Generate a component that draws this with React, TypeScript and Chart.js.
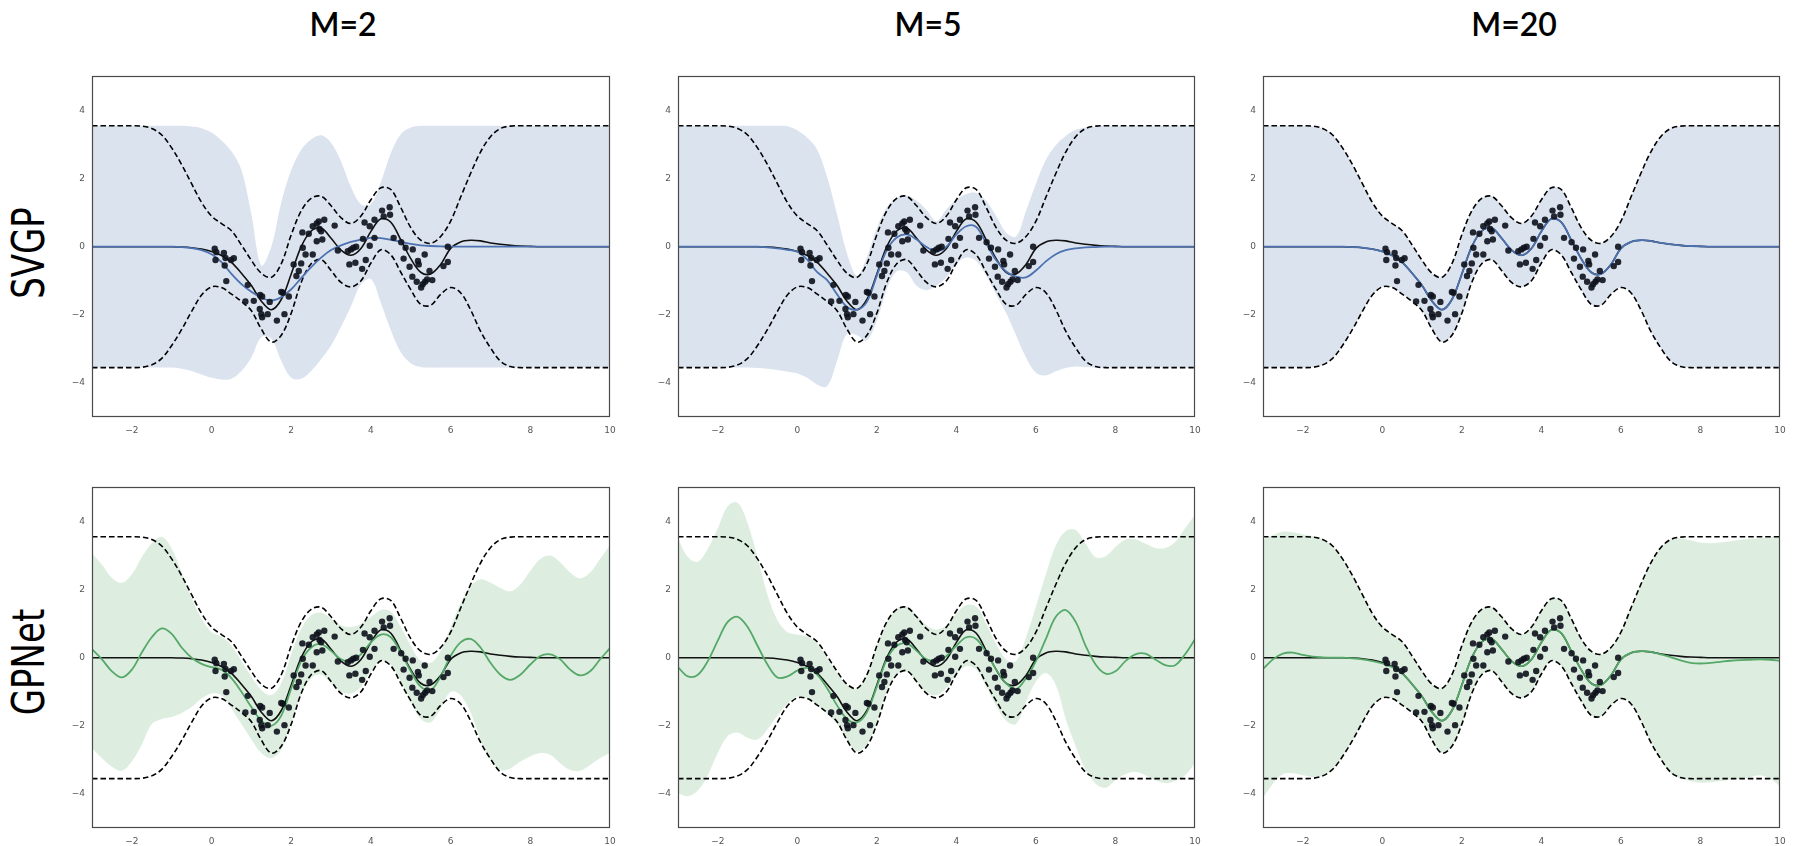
import React, { useEffect, useRef } from 'react';
import { Chart, registerables } from 'chart.js';
Chart.register(...registerables);

// ---------- data ----------
const XS = [-3,-2.75,-2.5,-2.25,-2,-1.75,-1.5,-1.25,-1,-0.75,-0.5,-0.25,0,
  0.25,0.5,0.75,1,1.25,1.5,1.75,2,2.25,2.5,2.75,3,3.25,
  3.5,3.75,4,4.25,4.5,4.75,5,5.25,5.5,5.75,6,6.25,6.5,
  6.75,7,7.25,7.5,7.75,8,8.25,8.5,8.75,9,9.25,9.5,9.75,10];

const X_TICKS = [-2, 0, 2, 4, 6, 8, 10];
const Y_TICKS = [-4, -2, 0, 2, 4];
const COL_TITLES = ['M=2', 'M=5', 'M=20'];
const ROW_TITLES = ['SVGP', 'GPNet'];

// exact GP (black) mean and +-2sd bounds
const TRUE_MEAN = [0,0,0,0,0,0,0,0,0,-0.01,-0.03,-0.07,-0.14,
  -0.26,-0.46,-0.78,-1.14,-1.6,-1.85,-1.55,-0.8,0.0,0.46,0.55,0.25,-0.1,
  -0.25,-0.05,0.45,0.82,0.72,0.2,-0.35,-0.75,-0.8,-0.52,-0.05,0.14,0.19,
  0.17,0.11,0.07,0.04,0.02,0.01,0,0,0,0,0,0,0,0];
const DASH_UP = [3.55,3.55,3.55,3.55,3.55,3.54,3.47,3.28,2.9,2.41,1.85,1.3,0.9,
  0.68,0.47,0.05,-0.4,-0.78,-0.9,-0.5,0.35,1.05,1.42,1.48,1.2,0.85,
  0.68,0.9,1.38,1.73,1.68,1.15,0.56,0.19,0.1,0.3,0.75,1.45,2.15,
  2.78,3.23,3.47,3.54,3.55,3.55,3.55,3.55,3.55,3.55,3.55,3.55,3.55,3.55];
const DASH_LO = [-3.55,-3.55,-3.55,-3.55,-3.55,-3.54,-3.47,-3.28,-2.9,-2.43,-1.9,-1.42,-1.18,
  -1.2,-1.39,-1.61,-1.88,-2.42,-2.8,-2.6,-1.95,-1.05,-0.5,-0.38,-0.7,-1.05,
  -1.18,-1.0,-0.48,-0.09,-0.24,-0.75,-1.26,-1.69,-1.72,-1.4,-1.2,-1.35,-1.85,
  -2.48,-2.97,-3.36,-3.52,-3.55,-3.55,-3.55,-3.55,-3.55,-3.55,-3.55,-3.55,-3.55,-3.55];

// SVGP M=2
const SVGP2_MEAN = [0,0,0,0,0,0,0,0,0,-0.01,-0.04,-0.1,-0.22,
  -0.45,-0.8,-1.1,-1.32,-1.5,-1.58,-1.48,-1.25,-0.92,-0.6,-0.32,-0.1,0.04,
  0.14,0.21,0.26,0.25,0.2,0.14,0.08,0.04,0.02,0.01,0,0,0,
  0,0,0,0,0,0,0,0,0,0,0,0,0,0];
const SVGP2_UP = [3.55,3.55,3.55,3.55,3.55,3.55,3.55,3.55,3.55,3.55,3.53,3.48,3.35,
  3.12,2.8,2.25,0.95,-0.55,0.0,1.3,2.25,2.85,3.15,3.27,3.05,2.5,
  1.75,1.25,1.25,1.9,2.75,3.3,3.5,3.55,3.55,3.55,3.55,3.55,3.55,
  3.55,3.55,3.55,3.55,3.55,3.55,3.55,3.55,3.55,3.55,3.55,3.55,3.55,3.55];
const SVGP2_LO = [-3.55,-3.55,-3.55,-3.55,-3.55,-3.55,-3.55,-3.55,-3.55,-3.58,-3.65,-3.75,-3.85,
  -3.9,-3.88,-3.65,-3.25,-2.65,-2.7,-3.35,-3.85,-3.88,-3.65,-3.3,-2.9,-2.35,
  -1.75,-1.1,-0.95,-1.65,-2.45,-3.1,-3.42,-3.53,-3.55,-3.55,-3.55,-3.55,-3.55,
  -3.55,-3.55,-3.55,-3.55,-3.55,-3.55,-3.55,-3.55,-3.55,-3.55,-3.55,-3.55,-3.55,-3.55];

// SVGP M=5
const SVGP5_MEAN = [0,0,0,0,0,0,0,0,0,-0.02,-0.05,-0.09,-0.15,
  -0.38,-0.75,-0.98,-1.4,-1.77,-1.85,-1.62,-0.85,-0.1,0.27,0.36,0.21,-0.01,
  -0.13,0.0,0.36,0.6,0.58,0.1,-0.4,-0.73,-0.88,-0.9,-0.7,-0.43,-0.22,
  -0.1,-0.05,-0.02,-0.01,0,0,0,0,0,0,0,0,0,0];
const SVGP5_UP = [3.55,3.55,3.55,3.55,3.55,3.55,3.55,3.55,3.55,3.55,3.55,3.54,3.42,
  3.2,2.85,2.05,0.95,-0.2,-0.85,-0.3,0.55,1.15,1.42,1.5,1.35,1.08,
  0.75,1.1,1.38,1.55,1.58,1.35,0.9,0.42,0.3,1.05,1.85,2.55,2.98,
  3.25,3.43,3.5,3.53,3.55,3.55,3.55,3.55,3.55,3.55,3.55,3.55,3.55,3.55];
const SVGP5_LO = [-3.55,-3.55,-3.55,-3.55,-3.55,-3.55,-3.55,-3.55,-3.56,-3.58,-3.62,-3.67,-3.72,
  -3.85,-4.05,-4.1,-3.35,-2.55,-2.6,-2.75,-2.17,-1.25,-0.72,-0.75,-1.15,-1.28,
  -1.15,-0.9,-0.51,-0.32,-0.42,-0.85,-1.4,-1.95,-2.6,-3.25,-3.7,-3.78,-3.66,
  -3.56,-3.52,-3.53,-3.55,-3.55,-3.55,-3.55,-3.55,-3.55,-3.55,-3.55,-3.55,-3.55,-3.55];

// GPNet M=2
const GPNET2_MEAN = [0.25,-0.05,-0.4,-0.58,-0.35,0.15,0.6,0.86,0.7,0.3,0.0,-0.18,-0.28,
  -0.35,-0.6,-1.0,-1.45,-1.85,-2.0,-1.7,-0.9,-0.1,0.3,0.4,0.2,-0.05,
  -0.1,0.1,0.45,0.68,0.6,0.15,-0.4,-0.85,-0.95,-0.55,0.05,0.45,0.55,
  0.3,-0.15,-0.5,-0.65,-0.5,-0.2,0.05,0.1,-0.05,-0.35,-0.52,-0.4,-0.05,0.28];
const GPNET2_UP = [3.07,2.73,2.35,2.2,2.45,2.95,3.36,3.55,3.2,2.5,1.75,1.15,0.75,
  0.62,0.35,-0.1,-0.55,-0.95,-1.1,-0.75,0.1,0.85,1.25,1.32,1.15,0.95,
  0.9,1.0,1.2,1.4,1.35,0.9,0.35,-0.1,-0.15,0.2,0.9,1.6,2.1,
  2.3,2.2,2.05,1.95,2.15,2.55,2.9,3.0,2.8,2.5,2.33,2.5,2.9,3.3];
const GPNET2_LO = [-2.66,-2.95,-3.2,-3.32,-3.05,-2.55,-1.95,-1.8,-1.74,-1.62,-1.45,-1.2,-1.05,
  -1.1,-1.5,-1.95,-2.4,-2.8,-2.95,-2.7,-1.9,-1.1,-0.6,-0.5,-0.75,-1.0,
  -1.05,-0.85,-0.4,-0.1,-0.2,-0.7,-1.3,-1.8,-1.9,-1.5,-1.0,-1.1,-1.6,
  -2.4,-3.0,-3.3,-3.25,-3.05,-2.9,-2.8,-2.85,-3.1,-3.3,-3.32,-3.15,-2.95,-2.8];

// GPNet M=5
const GPNET5_MEAN = [-0.28,-0.55,-0.5,-0.1,0.5,1.05,1.2,0.9,0.35,-0.2,-0.58,-0.55,-0.38,
  -0.3,-0.5,-0.9,-1.4,-1.8,-1.9,-1.6,-0.85,-0.05,0.35,0.42,0.2,-0.05,
  -0.1,0.05,0.35,0.6,0.55,0.15,-0.35,-0.75,-0.92,-0.6,-0.1,0.55,1.2,
  1.4,1.05,0.35,-0.2,-0.47,-0.4,-0.1,0.1,0.12,-0.05,-0.22,-0.22,0.1,0.54];
const GPNET5_UP = [3.5,2.95,2.82,3.2,3.8,4.45,4.55,3.95,2.95,1.85,1.1,0.75,0.68,
  0.62,0.42,0.0,-0.45,-0.8,-0.92,-0.5,0.35,1.05,1.42,1.5,1.25,0.95,
  0.82,0.95,1.3,1.55,1.5,1.0,0.4,-0.05,-0.1,0.6,1.5,2.45,3.3,
  3.72,3.75,3.35,2.95,2.98,3.25,3.47,3.48,3.35,3.22,3.22,3.4,3.8,4.2];
const GPNET5_LO = [-3.97,-4.07,-3.9,-3.45,-2.8,-2.3,-2.2,-2.35,-2.4,-2.1,-1.7,-1.35,-1.15,
  -1.2,-1.4,-1.65,-1.95,-2.4,-2.75,-2.55,-1.9,-1.0,-0.5,-0.42,-0.72,-1.02,
  -1.1,-0.9,-0.5,-0.25,-0.35,-0.85,-1.4,-1.85,-1.95,-1.3,-0.7,-0.45,-0.8,
  -1.8,-2.6,-3.3,-3.7,-3.82,-3.6,-3.42,-3.35,-3.45,-3.6,-3.68,-3.62,-3.45,-3.1];

// GPNet M=20
const GPNET20_MEAN = [-0.33,-0.05,0.12,0.15,0.08,0.03,0.01,0,0,-0.02,-0.05,-0.1,-0.17,
  -0.28,-0.46,-0.78,-1.14,-1.6,-1.85,-1.55,-0.8,0.0,0.46,0.55,0.25,-0.1,
  -0.25,-0.05,0.45,0.82,0.72,0.2,-0.35,-0.75,-0.8,-0.52,-0.05,0.14,0.19,
  0.17,0.1,0.02,-0.08,-0.15,-0.17,-0.15,-0.12,-0.09,-0.07,-0.06,-0.05,-0.06,-0.09];
const GPNET20_UP = [3.46,3.6,3.7,3.68,3.62,3.57,3.47,3.28,2.9,2.41,1.85,1.3,0.9,
  0.68,0.47,0.05,-0.4,-0.78,-0.9,-0.5,0.35,1.05,1.42,1.48,1.2,0.85,
  0.68,0.9,1.38,1.73,1.68,1.15,0.56,0.19,0.1,0.3,0.75,1.45,2.15,
  2.78,3.23,3.47,3.5,3.45,3.38,3.36,3.38,3.42,3.46,3.49,3.51,3.53,3.56];
const GPNET20_LO = [-4.12,-3.7,-3.42,-3.39,-3.45,-3.5,-3.47,-3.28,-2.9,-2.43,-1.9,-1.42,-1.18,
  -1.2,-1.39,-1.61,-1.88,-2.42,-2.8,-2.6,-1.95,-1.05,-0.5,-0.38,-0.7,-1.05,
  -1.18,-1.0,-0.48,-0.09,-0.24,-0.75,-1.26,-1.69,-1.72,-1.4,-1.2,-1.35,-1.85,
  -2.48,-2.97,-3.4,-3.55,-3.62,-3.67,-3.66,-3.62,-3.58,-3.56,-3.5,-3.45,-3.55,-3.78];

// observations
const PTS_X = [0.08,0.12,0.10,0.31,0.35,0.33,0.49,0.56,0.37,0.91,
  0.85,1.06,1.22,1.27,1.21,1.25,1.27,1.41,1.46,1.64,
  1.75,1.79,1.83,1.94,2.06,2.13,2.19,2.25,2.29,2.36,
  2.28,2.44,2.54,2.54,2.64,2.69,2.71,2.64,2.78,2.83,2.75,
  3.09,3.17,3.42,3.50,3.56,3.63,3.46,3.61,3.78,3.87,
  3.80,3.97,3.84,3.97,4.09,4.09,4.28,4.32,4.47,4.48,
  4.57,4.76,4.87,5.05,4.82,4.97,5.18,5.20,5.35,5.04,
  5.15,5.26,5.30,5.36,5.41,5.47,5.54,5.82,5.93,5.93];
const PTS_Y = [-0.06,-0.16,-0.39,-0.18,-0.33,-0.55,-0.39,-0.34,-1.01,-1.12,
  -1.61,-1.59,-1.42,-1.46,-1.83,-1.98,-2.07,-1.98,-1.62,-2.17,
  -1.33,-1.35,-1.98,-1.46,-0.52,-0.86,-0.71,-0.49,-0.03,-0.23,
  0.42,0.38,-0.23,0.60,0.68,0.74,0.52,0.16,0.21,0.79,0.45,
  0.62,-0.11,-0.13,-0.08,-0.03,0.0,-0.52,-0.47,-0.65,-0.39,
  0.23,0.03,0.71,0.60,0.79,0.26,1.06,0.89,1.16,0.94,
  0.26,0.13,-0.03,-0.08,-0.35,-0.59,-0.42,-0.52,-0.23,-0.88,
  -1.03,-1.20,-1.10,-1.03,-0.96,-0.71,-0.98,-0.57,-0.45,0.0];

// ---------- layout / style ----------
const PLOT_LEFT = [92, 678, 1263];
const PLOT_WIDTH = [518, 517, 517];
const PLOT_TOP = [74, 485];
const PLOT_HEIGHT = 343;
const PAD_L = 40, PAD_T = 10, PAD_R = 20, PAD_B = 25;

const BLUE = '#4c72b0';
const BLUE_FILL = 'rgba(76,114,176,0.2)';
const GREEN = '#55a868';
const GREEN_FILL = 'rgba(85,168,104,0.2)';

type PanelDef = { row: number; col: number; mean: number[]; up: number[]; lo: number[]; color: string; fill: string };

const PANELS: PanelDef[] = [
  { row: 0, col: 0, mean: SVGP2_MEAN, up: SVGP2_UP, lo: SVGP2_LO, color: BLUE, fill: BLUE_FILL },
  { row: 0, col: 1, mean: SVGP5_MEAN, up: SVGP5_UP, lo: SVGP5_LO, color: BLUE, fill: BLUE_FILL },
  { row: 0, col: 2, mean: TRUE_MEAN, up: DASH_UP, lo: DASH_LO, color: BLUE, fill: BLUE_FILL },
  { row: 1, col: 0, mean: GPNET2_MEAN, up: GPNET2_UP, lo: GPNET2_LO, color: GREEN, fill: GREEN_FILL },
  { row: 1, col: 1, mean: GPNET5_MEAN, up: GPNET5_UP, lo: GPNET5_LO, color: GREEN, fill: GREEN_FILL },
  { row: 1, col: 2, mean: GPNET20_MEAN, up: GPNET20_UP, lo: GPNET20_LO, color: GREEN, fill: GREEN_FILL },
];

const fmt = (v: number) => (v < 0 ? '\u2212' + Math.abs(v) : String(v));
const toPts = (ys: number[]) => XS.map((x, i) => ({ x, y: ys[i] }));

const framePlugin = {
  id: 'frame',
  afterDraw(chart: any) {
    const { ctx, chartArea } = chart;
    ctx.save();
    ctx.strokeStyle = '#4a4a4a';
    ctx.lineWidth = 1.2;
    ctx.strokeRect(Math.round(chartArea.left) + 0.5, Math.round(chartArea.top) + 0.5,
      Math.round(chartArea.right - chartArea.left) - 1, Math.round(chartArea.bottom - chartArea.top) - 1);
    ctx.restore();
  },
};

function Panel({ p }: { p: PanelDef }) {
  const ref = useRef<HTMLCanvasElement>(null);
  const w = PLOT_WIDTH[p.col] + PAD_L + PAD_R;
  const h = PLOT_HEIGHT + PAD_T + PAD_B;
  useEffect(() => {
    const line = (ys: number[], extra: any) => ({
      type: 'line', data: toPts(ys), pointRadius: 0, fill: false, tension: 0.35, ...extra,
    });
    const chart = new Chart(ref.current as HTMLCanvasElement, {
      type: 'line',
      data: {
        datasets: [
          line(p.up, { fill: '+1', backgroundColor: p.fill, borderColor: 'rgba(0,0,0,0)', borderWidth: 0, order: 10 }),
          line(p.lo, { borderColor: 'rgba(0,0,0,0)', borderWidth: 0, order: 11 }),
          line(DASH_UP, { borderColor: '#000', borderWidth: 1.6, borderDash: [5.5, 3], order: 5 }),
          line(DASH_LO, { borderColor: '#000', borderWidth: 1.6, borderDash: [5.5, 3], order: 5 }),
          line(TRUE_MEAN, { borderColor: '#111', borderWidth: 1.6, order: 4 }),
          line(p.mean, { borderColor: p.color, borderWidth: 1.8, order: 3 }),
          {
            type: 'scatter',
            data: PTS_X.map((x, i) => ({ x, y: PTS_Y[i] })),
            backgroundColor: 'rgba(14,18,28,0.9)',
            borderWidth: 0,
            pointRadius: 3.2,
            order: 1,
          },
        ] as any,
      },
      options: {
        animation: false,
        responsive: false,
        maintainAspectRatio: false,
        events: [],
        layout: { padding: { left: 0, right: PAD_R, top: PAD_T, bottom: 0 } },
        plugins: { legend: { display: false }, tooltip: { enabled: false } },
        scales: {
          x: {
            type: 'linear', min: -3, max: 10,
            grid: { display: false, drawTicks: false },
            border: { display: false },
            ticks: {
              font: { family: 'DejaVu Sans', size: 9 }, color: '#555', padding: 8,
              maxRotation: 0, autoSkip: false, callback: (v: any) => fmt(Number(v)),
            },
            afterBuildTicks: (s: any) => { s.ticks = X_TICKS.map((v) => ({ value: v })); },
            afterFit: (s: any) => { s.height = PAD_B; },
          },
          y: {
            type: 'linear', min: -5, max: 5,
            grid: { display: false, drawTicks: false },
            border: { display: false },
            ticks: {
              font: { family: 'DejaVu Sans', size: 9 }, color: '#555', padding: 7,
              autoSkip: false, callback: (v: any) => fmt(Number(v)),
            },
            afterBuildTicks: (s: any) => { s.ticks = Y_TICKS.map((v) => ({ value: v })); },
            afterFit: (s: any) => { s.width = PAD_L; },
          },
        },
      } as any,
      plugins: [framePlugin],
    });
    return () => chart.destroy();
  }, []);
  return (
    <canvas
      ref={ref}
      width={w}
      height={h}
      style={{ position: 'absolute', left: PLOT_LEFT[p.col] - PAD_L, top: PLOT_TOP[p.row] - PAD_T, width: w, height: h }}
    />
  );
}

const TITLE_CX = [343, 928, 1514];
const ROW_CY = [253, 662];

export default function App() {
  return (
    <div style={{ position: 'absolute', left: 0, top: 0, width: 1797, height: 846, background: '#fff', overflow: 'hidden' }}>
      {COL_TITLES.map((t, i) => (
        <div key={t} style={{
          position: 'absolute', left: TITLE_CX[i] - 100, width: 200, top: 8, textAlign: 'center',
          fontFamily: 'Lato, sans-serif', fontSize: 32, fontWeight: 600, lineHeight: '32px', color: '#000',
        }}>{t}</div>
      ))}
      {ROW_TITLES.map((t, i) => (
        <div key={t} style={{
          position: 'absolute', left: 29, top: ROW_CY[i], whiteSpace: 'nowrap',
          fontFamily: '"DejaVu Sans", sans-serif', fontSize: 34, lineHeight: '34px', color: '#000',
          transform: 'translate(-50%, -50%) rotate(-90deg) scaleY(1.29)',
        }}>{t}</div>
      ))}
      {PANELS.map((p, i) => <Panel key={i} p={p} />)}
    </div>
  );
}
